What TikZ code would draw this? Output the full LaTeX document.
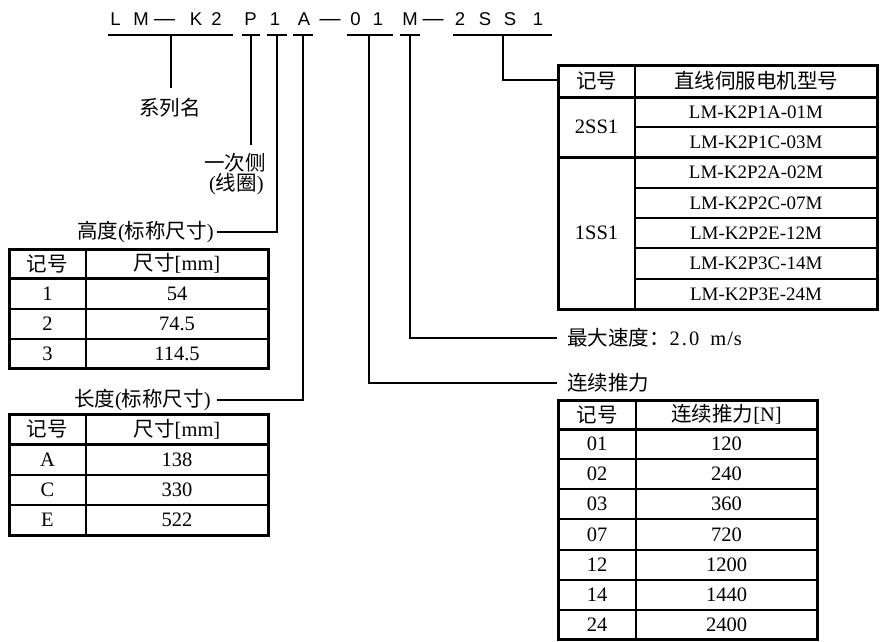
\documentclass[tikz,border=0pt]{standalone}
\usepackage{fontspec}
\setmainfont{Liberation Serif}
\newfontfamily\cjk{Noto Sans CJK SC}
\newfontfamily\titlefont{Liberation Sans}
\newcommand\zhtext[1]{{\cjk\fontsize{20.5}{22}\selectfont #1}}
\tikzset{
  thinl/.style={line width=1.4pt},
  thickl/.style={line width=3pt},
  conn/.style={line width=1.1pt},
  txt/.style={inner sep=0pt, font=\fontsize{20.5}{22}\selectfont},
  ptxt/.style={inner sep=0pt, font=\fontsize{20.5}{22}\selectfont},
  mtxt/.style={inner sep=0pt, font=\fontsize{19}{21}\selectfont},
  tch/.style={inner sep=0pt, anchor=base, font=\titlefont\fontsize{18.5}{18}\selectfont},
  tdash/.style={inner sep=0pt, anchor=base, font=\titlefont\fontsize{21}{20}\selectfont},
}
\begin{document}
\begin{tikzpicture}[x=1pt,y=-1pt]
\useasboundingbox (0,0) rectangle (881,641);

% ---- title characters
\foreach \c/\x [count=\i] in {L/115.5, M/141, K/196, 2/216.5, P/250.5, 1/275, A/304, 0/355.5, 1/378, M/410, 2/460, S/485, S/510, 1/538}
  \node[tch] (t\i) at (\x,25.5) {\c};
\node[tdash] (d1) at (164.5,25) {—};
\node[tdash] (d2) at (330,25) {—};
\node[tdash] (d3) at (433,25) {—};

% ---- underlines
\draw[conn] (108,35) -- (233,35);
\draw[conn] (242,35) -- (260,35);
\draw[conn] (267,35) -- (287,35);
\draw[conn] (293,35) -- (313,35);
\draw[conn] (347,35) -- (393,35);
\draw[conn] (400,35) -- (420,35);
\draw[conn] (453,35) -- (552,35);

\coordinate (k1) at (171,35);
\coordinate (k2) at (251,35);
\coordinate (k3) at (277,35);
\coordinate (k4) at (303,35);
\coordinate (k5) at (369,35);
\coordinate (k6) at (410,35);
\coordinate (k7) at (503,35);

% ---- labels
\node[ptxt] (series) at (170,108) {\zhtext{系列名}};
\coordinate (e1) at (171,88);
\draw[conn] (k1) -- (e1);

\node[ptxt, anchor=east] (prim1) at (266,163) {\zhtext{一次侧}};
\node[ptxt, anchor=east] (prim2) at (264,184) {(\zhtext{线圈})};
\coordinate (e2) at (251,145);
\draw[conn] (k2) -- (e2);

\node[ptxt, anchor=east, inner xsep=3pt] (hlab) at (217,232) {\zhtext{高度}(\zhtext{标称尺寸})};
\draw[conn] (k3) |- (hlab.east);

\node[ptxt, anchor=east, inner xsep=6pt] (llab) at (217,400) {\zhtext{长度}(\zhtext{标称尺寸})};
\draw[conn] (k4) |- (llab.east);

\node[txt, anchor=west, inner xsep=10pt] (vmax) at (557,338) {\zhtext{最大速度：}2\kern2pt.\kern2pt0\hspace{11pt}m\kern1pt/\kern1pt s};
\draw[conn] (k6) |- (vmax.west);

\node[txt, anchor=west, inner xsep=10pt] (thr) at (557,383) {\zhtext{连续推力}};
\draw[conn] (k5) |- (thr.west);

\coordinate (t3l) at (558,80);
\draw[conn] (k7) |- (t3l);

% ---- table 1 : height
\draw[thinl] (86,249) -- (86,368);
\draw[thinl] (9,309) -- (268,309);
\draw[thinl] (9,339) -- (268,339);
\draw[thickl] (9,278) -- (268,278);
\draw[thickl] (9,249) rectangle (268,368);
\node[txt] (h00) at (47.5,263.5) {\zhtext{记号}};
\node[txt] (h01) at (177,263.5) {\zhtext{尺寸}[mm]};
\node[txt] (h10) at (47.5,293.5) {1};
\node[txt] (h11) at (177,293.5) {54};
\node[txt] (h20) at (47.5,324) {2};
\node[txt] (h21) at (177,324) {74.5};
\node[txt] (h30) at (47.5,353.5) {3};
\node[txt] (h31) at (177,353.5) {114.5};

% ---- table 2 : length
\draw[thinl] (86,414) -- (86,535);
\draw[thinl] (9,475) -- (268,475);
\draw[thinl] (9,505) -- (268,505);
\draw[thickl] (9,444) -- (268,444);
\draw[thickl] (9,414) rectangle (268,535);
\node[txt] (l00) at (47.5,429) {\zhtext{记号}};
\node[txt] (l01) at (177,429) {\zhtext{尺寸}[mm]};
\node[txt] (l10) at (47.5,459.5) {A};
\node[txt] (l11) at (177,459.5) {138};
\node[txt] (l20) at (47.5,490) {C};
\node[txt] (l21) at (177,490) {330};
\node[txt] (l30) at (47.5,520) {E};
\node[txt] (l31) at (177,520) {522};

% ---- table 3 : models
\draw[thinl] (635,65) -- (635,309);
\foreach \y in {127,188,218,248,279} \draw[thinl] (635,\y) -- (877,\y);
\draw[thickl] (558,97) -- (877,97);
\draw[thickl] (558,157) -- (877,157);
\draw[thickl] (558,65) rectangle (877,309);
\node[txt] (m00) at (596.5,81) {\zhtext{记号}};
\node[txt] (m01) at (756,81) {\zhtext{直线伺服电机型号}};
\node[txt] (m10) at (596.5,127) {2SS1};
\node[txt] (m20) at (596.5,233) {1SS1};
\node[mtxt] (m11) at (756,112) {LM-K2P1A-01M};
\node[mtxt] (m12) at (756,142) {LM-K2P1C-03M};
\node[mtxt] (m21) at (756,172.5) {LM-K2P2A-02M};
\node[mtxt] (m22) at (756,203) {LM-K2P2C-07M};
\node[mtxt] (m23) at (756,233) {LM-K2P2E-12M};
\node[mtxt] (m24) at (756,263.5) {LM-K2P3C-14M};
\node[mtxt] (m25) at (756,294) {LM-K2P3E-24M};

% ---- table 4 : thrust
\draw[thinl] (636,400) -- (636,639);
\foreach \y in {459,489,519,550,580,610} \draw[thinl] (558,\y) -- (817,\y);
\draw[thickl] (558,429) -- (817,429);
\draw[thickl] (558,400) rectangle (817,639);
\node[txt] (f00) at (597,414.5) {\zhtext{记号}};
\node[txt] (f01) at (726.5,414.5) {\zhtext{连续推力}[N]};
\foreach \a/\b/\y [count=\i] in {01/120/444, 02/240/474, 03/360/504, 07/720/534.5, 12/1200/565, 14/1440/595, 24/2400/624.5}{
  \node[txt] (fa\i) at (597,\y) {\a};
  \node[txt] (fb\i) at (726.5,\y) {\b};
}
\end{tikzpicture}
\end{document}
